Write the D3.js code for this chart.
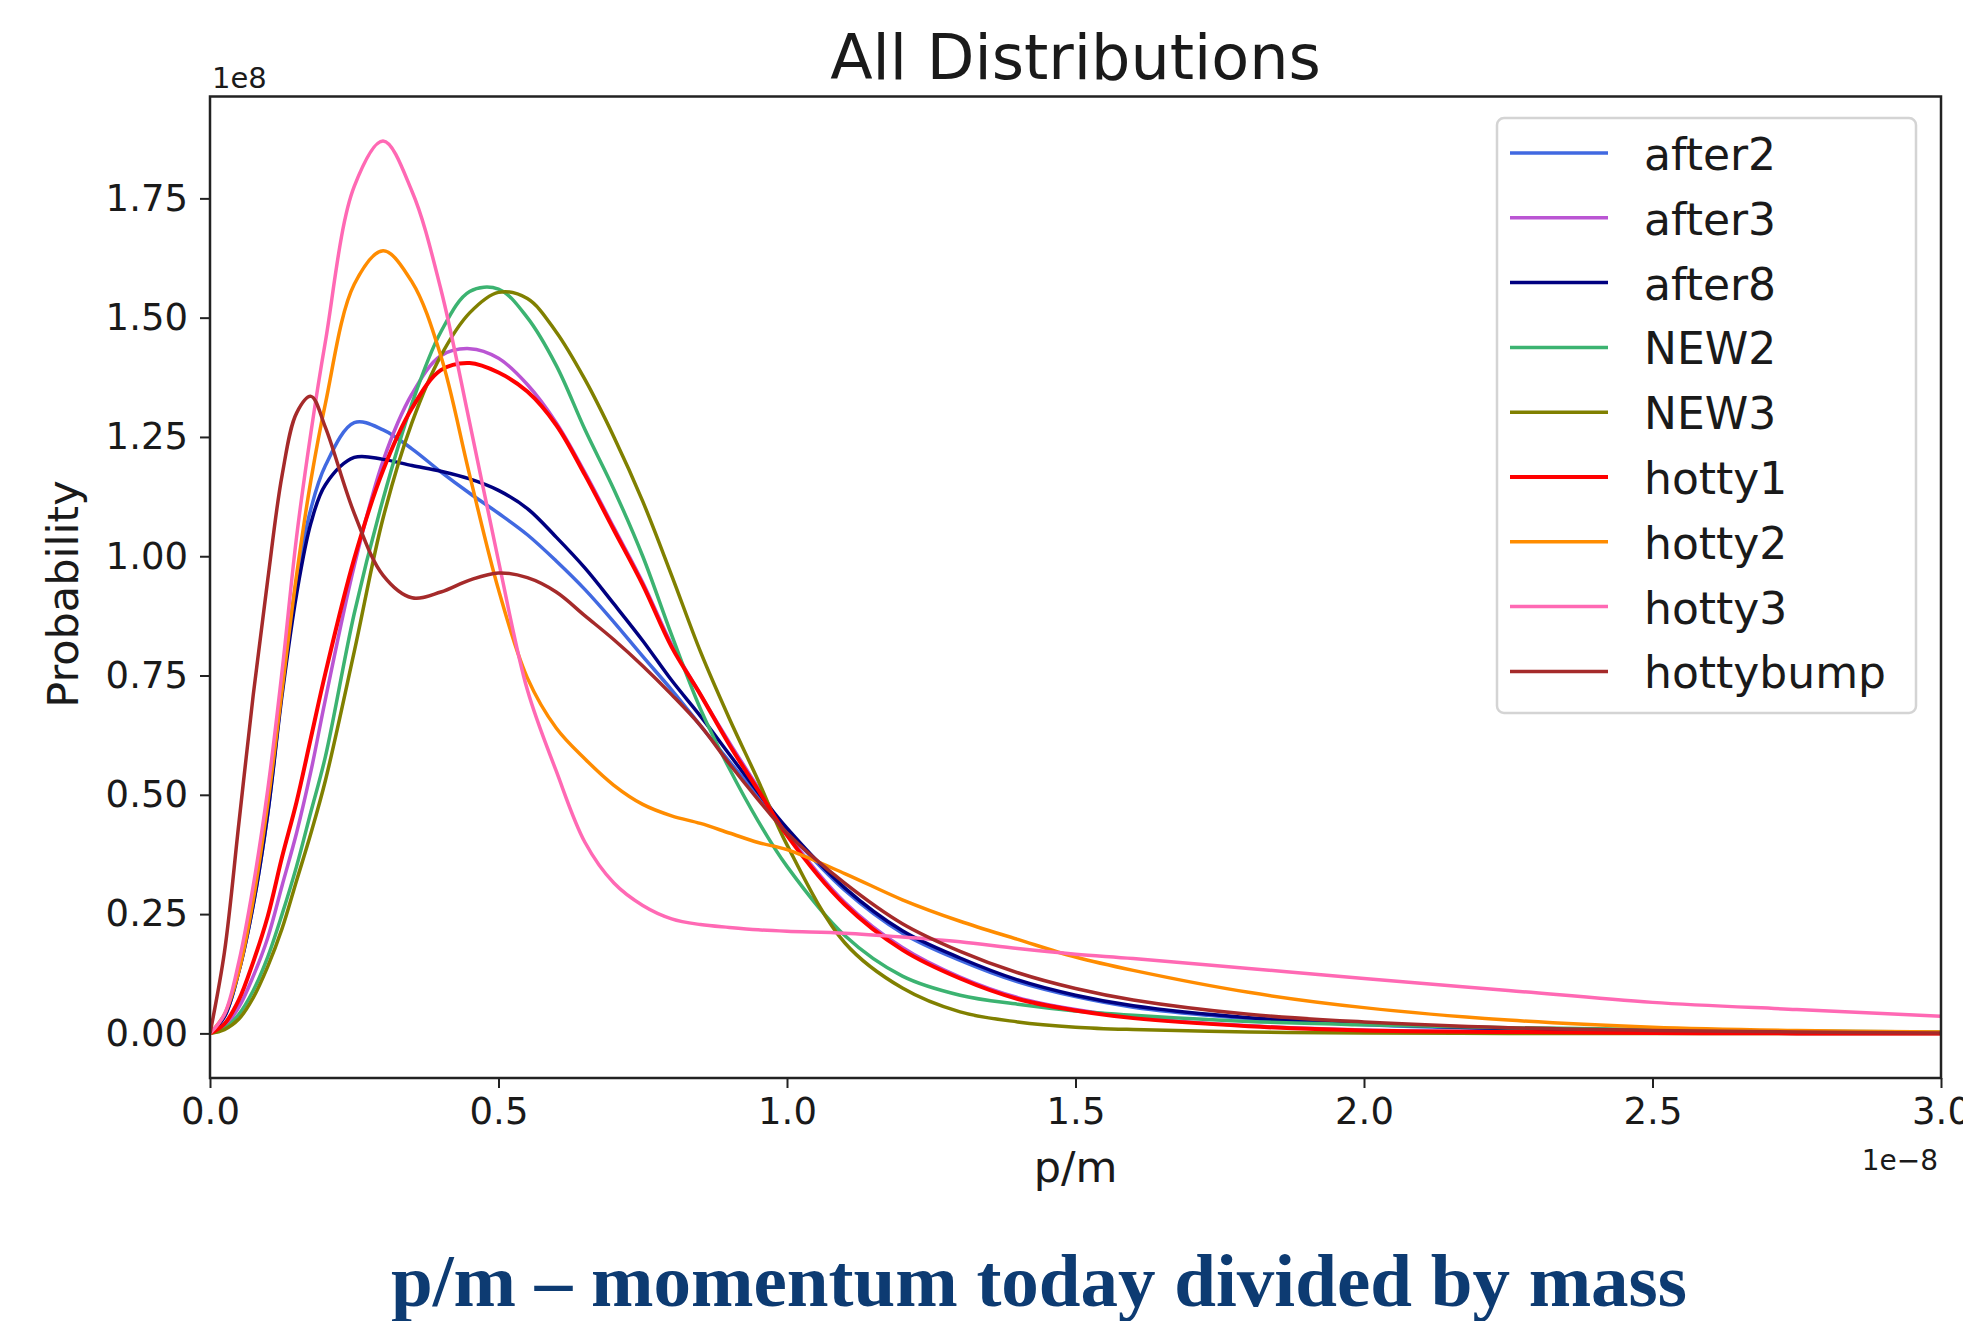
<!DOCTYPE html>
<html>
<head>
<meta charset="utf-8">
<script src="https://cdn.jsdelivr.net/npm/d3@7"></script>
<style>
  body { margin: 0; background: #fff; }
  svg text { font-family: "DejaVu Sans", sans-serif; fill: #1a1a1a; }
</style>
</head>
<body>
<div id="plot"></div>
<script>
// p/m sample points (units of 1e-8)
const pm = [0, 0.025, 0.05, 0.075, 0.1, 0.125, 0.15, 0.175, 0.2, 0.25, 0.3, 0.35, 0.4, 0.45, 0.5,
  0.55, 0.6, 0.65, 0.7, 0.75, 0.8, 0.85, 0.9, 0.95, 1.0, 1.1, 1.2, 1.3, 1.4, 1.5, 1.6, 1.8, 2.0,
  2.25, 2.5, 2.75, 3.0];

// probability values (units of 1e8)
const after2 = [0, 0.035, 0.13, 0.27, 0.46, 0.72, 0.95, 1.10, 1.19, 1.28, 1.265, 1.225, 1.177, 1.132, 1.09,
  1.045, 0.99, 0.93, 0.862, 0.79, 0.72, 0.645, 0.57, 0.497, 0.425, 0.30, 0.21, 0.153, 0.108, 0.077, 0.055, 0.031, 0.018,
  0.009, 0.005, 0.002, 0.001];
const after3 = [0, 0.015, 0.055, 0.12, 0.2, 0.31, 0.42, 0.55, 0.70, 0.98, 1.2, 1.34, 1.42, 1.435, 1.415,
  1.36, 1.28, 1.175, 1.06, 0.945, 0.815, 0.71, 0.61, 0.515, 0.42, 0.275, 0.18, 0.118, 0.075, 0.05, 0.034, 0.016, 0.007,
  0.003, 0.001, 0, 0];
const after8 = [0, 0.035, 0.13, 0.27, 0.46, 0.71, 0.92, 1.07, 1.15, 1.207, 1.203, 1.19, 1.178, 1.162, 1.138,
  1.10, 1.04, 0.975, 0.90, 0.823, 0.74, 0.665, 0.585, 0.505, 0.43, 0.305, 0.215, 0.158, 0.112, 0.08, 0.058, 0.033, 0.02,
  0.01, 0.005, 0.002, 0.001];
const new2 = [0, 0.01, 0.04, 0.09, 0.16, 0.25, 0.35, 0.465, 0.58, 0.88, 1.12, 1.32, 1.47, 1.555, 1.56,
  1.50, 1.40, 1.265, 1.14, 1.0, 0.835, 0.68, 0.555, 0.445, 0.35, 0.205, 0.12, 0.08, 0.061, 0.047, 0.038, 0.025, 0.018,
  0.012, 0.008, 0.005, 0.003];
const new3 = [0, 0.008, 0.03, 0.075, 0.14, 0.22, 0.32, 0.42, 0.53, 0.80, 1.08, 1.28, 1.42, 1.51, 1.553,
  1.54, 1.47, 1.37, 1.25, 1.115, 0.96, 0.80, 0.66, 0.53, 0.395, 0.19, 0.095, 0.045, 0.024, 0.013, 0.008, 0.003, 0.001,
  0, 0, 0, 0];
const hotty1 = [0, 0.02, 0.07, 0.15, 0.245, 0.37, 0.485, 0.62, 0.755, 0.995, 1.18, 1.31, 1.39, 1.405, 1.385,
  1.345, 1.275, 1.17, 1.055, 0.94, 0.81, 0.71, 0.605, 0.51, 0.415, 0.27, 0.175, 0.115, 0.072, 0.048, 0.032, 0.015, 0.006,
  0.003, 0.001, 0, 0];
const hotty2 = [0, 0.04, 0.13, 0.28, 0.48, 0.72, 0.96, 1.16, 1.32, 1.57, 1.64, 1.575, 1.42, 1.17, 0.93,
  0.745, 0.64, 0.575, 0.52, 0.48, 0.456, 0.44, 0.42, 0.40, 0.385, 0.335, 0.28, 0.235, 0.197, 0.16, 0.132, 0.086, 0.054,
  0.028, 0.013, 0.006, 0.003];
const hotty3 = [0, 0.04, 0.15, 0.31, 0.51, 0.76, 1.04, 1.26, 1.45, 1.775, 1.87, 1.765, 1.56, 1.28, 0.99,
  0.72, 0.55, 0.40, 0.315, 0.268, 0.24, 0.228, 0.222, 0.217, 0.214, 0.21, 0.202, 0.192, 0.178, 0.166, 0.157, 0.136, 0.115,
  0.09, 0.065, 0.05, 0.036];
const hottybump = [0, 0.17, 0.44, 0.71, 0.95, 1.17, 1.30, 1.335, 1.27, 1.09, 0.96, 0.913, 0.925, 0.95, 0.965,
  0.955, 0.925, 0.875, 0.825, 0.77, 0.71, 0.645, 0.565, 0.49, 0.42, 0.315, 0.23, 0.172, 0.127, 0.094, 0.07, 0.04, 0.024,
  0.012, 0.006, 0.003, 0.001];

const seriesNames = ["after2", "after3", "after8", "NEW2", "NEW3", "hotty1", "hotty2", "hotty3", "hottybump"];
const seriesValues = [after2, after3, after8, new2, new3, hotty1, hotty2, hotty3, hottybump];
const xTicks = [0, 0.5, 1.0, 1.5, 2.0, 2.5, 3.0];
const yTicks = [0, 0.25, 0.5, 0.75, 1.0, 1.25, 1.5, 1.75];

const colors = ["#4169e1", "#ba55d3", "#000080", "#3cb371", "#808000", "#ff0000", "#ff8c00", "#ff69b4", "#a52a2a"];
const widths = [3.5, 3.5, 3.5, 3.5, 3.5, 4, 3.5, 3.5, 3.5];

// Set up dimensions
const width = 1963;
const height = 1321;
const margin = { top: 96.5, right: 22, bottom: 243, left: 210 };

const svg = d3.select("#plot")
  .append("svg")
  .attr("width", width)
  .attr("height", height);

const x = d3.scaleLinear()
  .domain([0, 3])
  .range([margin.left, width - margin.right]);

const y = d3.scaleLinear()
  .domain([-0.0935, 1.9635])
  .range([height - margin.bottom, margin.top]);

// Curves
const line = d3.line()
  .x(d => x(d[0]))
  .y(d => y(Math.max(0, d[1])))
  .curve(d3.curveCatmullRom.alpha(0.5));

svg.append("defs").append("clipPath")
  .attr("id", "clip")
  .append("rect")
  .attr("x", x.range()[0])
  .attr("y", y.range()[1])
  .attr("width", x.range()[1] - x.range()[0])
  .attr("height", y.range()[0] - y.range()[1]);

svg.append("g")
  .attr("clip-path", "url(#clip)")
  .selectAll("path")
  .data(seriesValues)
  .enter()
  .append("path")
  .attr("d", vals => line(pm.map((p, i) => [p, vals[i]])))
  .attr("fill", "none")
  .attr("stroke", (d, i) => colors[i])
  .attr("stroke-width", (d, i) => widths[i])
  .attr("stroke-linejoin", "round");

// Axes
const xAxis = svg.append("g")
  .attr("transform", `translate(0,${height - margin.bottom})`)
  .call(d3.axisBottom(x).tickValues(xTicks).tickFormat(d3.format(".1f")).tickSize(10).tickPadding(10));

const yAxis = svg.append("g")
  .attr("transform", `translate(${margin.left},0)`)
  .call(d3.axisLeft(y).tickValues(yTicks).tickFormat(d3.format(".2f")).tickSize(10).tickPadding(12));

[xAxis, yAxis].forEach(g => {
  g.select(".domain").remove();
  g.selectAll("line").attr("stroke", "#222").attr("stroke-width", 2);
  g.selectAll("text").style("font-size", "37px").attr("fill", "#1a1a1a");
});

// Frame
svg.append("rect")
  .attr("x", x.range()[0])
  .attr("y", y.range()[1])
  .attr("width", x.range()[1] - x.range()[0])
  .attr("height", y.range()[0] - y.range()[1])
  .attr("fill", "none")
  .attr("stroke", "#222")
  .attr("stroke-width", 2.5);

// Offset texts
svg.append("text")
  .attr("x", margin.left + 2)
  .attr("y", 88)
  .style("font-size", "29px")
  .text("1e8");

svg.append("text")
  .attr("x", width - margin.right - 3)
  .attr("y", 1170)
  .attr("text-anchor", "end")
  .style("font-size", "28px")
  .text("1e\u22128");

// Title and labels
svg.append("text")
  .attr("x", (x.range()[0] + x.range()[1]) / 2)
  .attr("y", 79)
  .attr("text-anchor", "middle")
  .style("font-size", "62px")
  .text("All Distributions");

svg.append("text")
  .attr("x", (x.range()[0] + x.range()[1]) / 2)
  .attr("y", 1182)
  .attr("text-anchor", "middle")
  .style("font-size", "43px")
  .text("p/m");

svg.append("text")
  .attr("transform", "rotate(-90)")
  .attr("x", -594)
  .attr("y", 78)
  .attr("text-anchor", "middle")
  .style("font-size", "43px")
  .text("Probability");

// Legend
const legend = svg.append("g").attr("transform", "translate(1497,118)");
legend.append("rect")
  .attr("width", 419)
  .attr("height", 595)
  .attr("rx", 7)
  .attr("fill", "#fff")
  .attr("fill-opacity", 0.8)
  .attr("stroke", "#d4d4d4")
  .attr("stroke-width", 2.5);

const entry = legend.selectAll(".entry")
  .data(seriesNames)
  .enter()
  .append("g")
  .attr("class", "entry")
  .attr("transform", (d, i) => `translate(0,${35 + i * 64.8})`);

entry.append("line")
  .attr("x1", 13)
  .attr("x2", 111)
  .attr("stroke", (d, i) => colors[i])
  .attr("stroke-width", (d, i) => widths[i]);

entry.append("text")
  .attr("x", 147)
  .attr("y", 17)
  .style("font-size", "44px")
  .text(d => d);

// Caption under the chart
svg.append("text")
  .attr("x", 1039)
  .attr("y", 1306)
  .attr("text-anchor", "middle")
  .style("font-family", "'Liberation Serif', 'Times New Roman', serif")
  .style("font-weight", "bold")
  .style("font-size", "75px")
  .style("fill", "#0d3b72")
  .text("p/m \u2013 momentum today divided by mass");
</script>
</body>
</html>
